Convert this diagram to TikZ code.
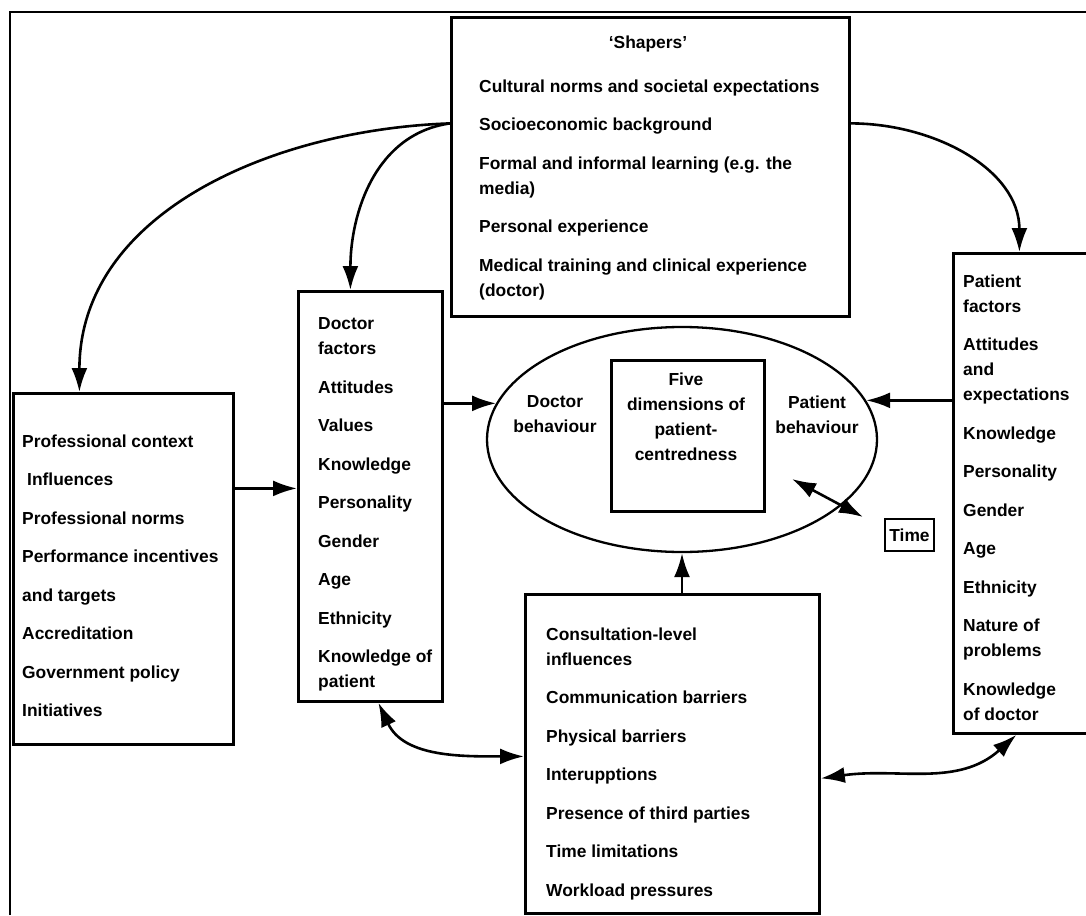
\documentclass[tikz,border=0pt]{standalone}
\usepackage{fontspec}
\setmainfont{Liberation Sans}
\usetikzlibrary{positioning,arrows.meta,shapes.geometric}
\newcommand{\itemgap}{\\[13.5pt]}

\begin{document}
\begin{tikzpicture}[x=1pt,y=-1pt,
  box/.style={draw, line width=2.8pt, inner sep=0pt, anchor=north west},
  txt/.style={inner sep=0pt, align=left, anchor=north west,
    font=\fontsize{17.4}{25}\selectfont\bfseries},
  arr/.style={line width=2.6pt, -{Latex[length=24pt,width=16pt]}},
  dbl/.style={line width=2.6pt, {Latex[length=24pt,width=16pt]}-{Latex[length=24pt,width=16pt]}}]
\useasboundingbox (0,0) rectangle (1086,915);
\draw[line width=1.5pt] (10,915) -- (10,12) -- (1086,12);

% boxes
\node[box, minimum width=398pt, minimum height=299pt] (shp) at (450,16) {};
\node[box, minimum width=144pt, minimum height=410pt] (doc) at (297,290) {};
\node[box, minimum width=220pt, minimum height=351pt] (prf) at (12,392) {};
\node[box, minimum width=140pt, minimum height=480pt] (pat) at (952,252) {};
\node[box, minimum width=294pt, minimum height=319pt] (con) at (524,593) {};
\node[draw, ellipse, line width=2.3pt, minimum width=390pt, minimum height=225pt] (ell) at (682,439.5) {};
\node[box, minimum width=153pt, minimum height=151pt] (dim) at (610,359) {};
\node[draw, line width=2.6pt, inner sep=0pt, minimum width=49pt, minimum height=32pt,
  font=\fontsize{17.4}{25}\selectfont\bfseries] (time) at (909.5,535) {Time};

% texts
\node[txt, anchor=base] (shp-h) at (648,49) {`Shapers'};
\node[txt] (shp-t) at (479,79.4) {Cultural norms and societal expectations\itemgap
  Socioeconomic background\itemgap
  Formal and informal learning (e.g. the\\ media)\itemgap
  Personal experience\itemgap
  Medical training and clinical experience\\ (doctor)};
\node[txt] (doc-t) at (318,317.4) {Doctor\\ factors\itemgap Attitudes\itemgap Values\itemgap
  Knowledge\itemgap Personality\itemgap Gender\itemgap Age\itemgap Ethnicity\itemgap
  Knowledge of\\ patient};
\node[txt] (prf-t) at (22,434.4) {Professional context\itemgap
  \hspace{5pt}Influences\itemgap Professional norms\itemgap Performance incentives\itemgap
  and targets\itemgap Accreditation\itemgap Government policy\itemgap Initiatives};
\node[txt] (pat-t) at (963,274.4) {Patient\\ factors\itemgap Attitudes\\ and\\ expectations\itemgap
  Knowledge\itemgap Personality\itemgap Gender\itemgap Age\itemgap Ethnicity\itemgap
  Nature of\\ problems\itemgap Knowledge\\ of doctor};
\node[txt] (con-t) at (546,627.4) {Consultation-level\\ influences\itemgap
  Communication barriers\itemgap Physical barriers\itemgap Interupptions\itemgap
  Presence of third parties\itemgap Time limitations\itemgap Workload pressures};
\node[txt, align=center, anchor=north] (docb) at (555,395.4) {Doctor\\ behaviour};
\node[txt, align=center, anchor=north] (patb) at (817,395.4) {Patient\\ behaviour};
\node[txt, align=center, anchor=north] (dim-t) at (686,372.4) {Five\\ dimensions of\\ patient-\\ centredness};

% connectors
\draw[arr] ([yshift=43.5pt]shp.west) to[out=188,in=90] ([xshift=-20pt]doc.north);
\draw[arr] ([yshift=43.5pt]shp.west) to[out=182,in=90] ([xshift=-44pt]prf.north);
\draw[arr] ([yshift=43.5pt]shp.east) to[out=0,in=90] ([xshift=-4pt]pat.north);
\draw[arr] ([yshift=80.5pt]prf.east) coordinate (p1) -- (p1 -| doc.west);
\draw[arr] (doc.east |- ell.169) -- (ell.169);
\draw[arr] (pat.west |- ell.12) -- (ell.12);
\draw[arr] (ell.south |- con.north) -- (ell.south);
\draw[dbl] ([xshift=8pt]doc.south) to[out=-65,in=180] ([yshift=-2.5pt]con.west);
\draw[dbl] ([yshift=-24.5pt]con.east) to[out=8,in=222] ([xshift=-7pt]pat.south);
\coordinate (t1) at (792,479);
\coordinate (t2) at (863,517);
\draw[dbl] (t1) -- (t2);
\end{tikzpicture}
\end{document}
